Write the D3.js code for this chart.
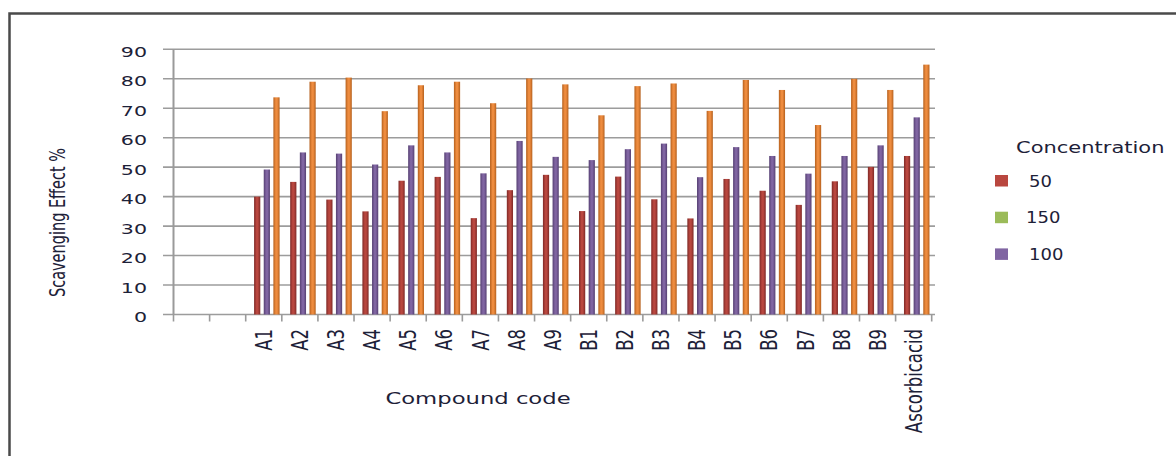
<!DOCTYPE html>
<html>
<head>
<meta charset="utf-8">
<script src="https://cdn.jsdelivr.net/npm/d3@7"></script>
<style>
  body { margin: 0; background: #fff; }
  text { font-family: "DejaVu Sans", sans-serif; fill: #1d2138; }
</style>
</head>
<body>
<div id="wrapper"></div>
<script>
// data
const categories = ["", "", "A1", "A2", "A3", "A4", "A5", "A6", "A7", "A8", "A9",
  "B1", "B2", "B3", "B4", "B5", "B6", "B7", "B8", "B9", "Ascorbicacid"];
const conc50 = [null, null, 40, 45, 39, 35, 45.4, 46.7, 32.7, 42.2, 47.4,
  35.1, 46.8, 39.1, 32.6, 46.0, 42.0, 37.2, 45.2, 50.1, 53.8];
const conc150 = [null, null, 0, 0, 0, 0, 0, 0, 0, 0, 0,
  0, 0, 0, 0, 0, 0, 0, 0, 0, 0];
const conc100 = [null, null, 49.2, 55.0, 54.6, 50.9, 57.4, 55.0, 47.9, 58.9, 53.5,
  52.4, 56.1, 58.0, 46.6, 56.8, 53.8, 47.8, 53.8, 57.4, 66.9];
const conc200 = [null, null, 73.7, 79.0, 80.4, 69.0, 77.8, 79.0, 71.7, 80.1, 78.1,
  67.6, 77.5, 78.4, 69.1, 79.6, 76.2, 64.3, 80.0, 76.2, 84.8];
const yTicks = [0, 10, 20, 30, 40, 50, 60, 70, 80, 90];
const legendKeys = ["50", "150", "100"];

const series = [
  { key: "150", values: conc150, color: "#9bbb59", edge: "#6f8a3a" },
  { key: "50", values: conc50, color: "#b9473f", edge: "#7e2926" },
  { key: "100", values: conc100, color: "#8065a2", edge: "#553f72" },
  { key: "200", values: conc200, color: "#ee8c3f", edge: "#b5601d" }
];

const width = 1176, height = 456;
const sx = 1.42; // the picture is stretched sideways

const svg = d3.select("#wrapper").append("svg")
  .attr("width", width)
  .attr("height", height);

// gradients for the shaded columns
const defs = svg.append("defs");
series.forEach(s => {
  const g = defs.append("linearGradient")
    .attr("id", "grad" + s.key)
    .attr("x1", 0).attr("x2", 1).attr("y1", 0).attr("y2", 0);
  g.append("stop").attr("offset", "0%").attr("stop-color", s.edge);
  g.append("stop").attr("offset", "40%").attr("stop-color", s.color);
  g.append("stop").attr("offset", "60%").attr("stop-color", s.color);
  g.append("stop").attr("offset", "100%").attr("stop-color", s.edge);
});

// outer frame
svg.append("path")
  .attr("d", `M9.5,${height + 5}V13.5H${width + 5}`)
  .attr("fill", "none")
  .attr("stroke", "#4a4a4a")
  .attr("stroke-width", 2.5);

// scales
const x = d3.scaleBand()
  .domain(d3.range(categories.length))
  .range([173.5, 931.7]);
const y = d3.scaleLinear()
  .domain([0, 90])
  .range([314.5, 49.3]);
const bw = x.bandwidth();
const xSub = d3.scaleBand()
  .domain(series.map(s => s.key))
  .range([-3, bw - 0.5]);
const barW = 6.2;

// gridlines
svg.append("g").selectAll("line")
  .data(yTicks)
  .enter().append("line")
  .attr("x1", 163)
  .attr("x2", 935)
  .attr("y1", d => y(d))
  .attr("y2", d => y(d))
  .attr("stroke", "#9c9c9c")
  .attr("stroke-width", 1.6);

// y axis line
svg.append("line")
  .attr("x1", 173.5).attr("x2", 173.5)
  .attr("y1", y(90)).attr("y2", y(0))
  .attr("stroke", "#9a9a9a")
  .attr("stroke-width", 2);

// x ticks
svg.append("g").selectAll("line")
  .data(d3.range(categories.length + 1))
  .enter().append("line")
  .attr("x1", d => d < categories.length ? x(d) : x(d - 1) + bw)
  .attr("x2", d => d < categories.length ? x(d) : x(d - 1) + bw)
  .attr("y1", y(0))
  .attr("y2", y(0) + 7)
  .attr("stroke", "#9a9a9a")
  .attr("stroke-width", 1.6);

// y tick labels
svg.append("g").selectAll("text")
  .data(yTicks)
  .enter().append("text")
  .attr("transform", d => `translate(147,${y(d) + 2.5}) scale(${sx},1)`)
  .attr("text-anchor", "end")
  .attr("dy", "0.35em")
  .style("font-size", "14.5px")
  .text(d => d);

// bars
series.forEach(s => {
  svg.append("g").selectAll("rect")
    .data(s.values.map((v, i) => ({ i, v })).filter(d => d.v !== null))
    .enter().append("rect")
    .attr("x", d => x(d.i) + xSub(s.key) + xSub.bandwidth() / 2 - barW / 2)
    .attr("width", barW)
    .attr("y", d => y(d.v))
    .attr("height", d => y(0) - y(d.v))
    .attr("fill", `url(#grad${s.key})`);
});

// category labels
svg.append("g").selectAll("text")
  .data(categories.map((c, i) => ({ c, i })).filter(d => d.c !== ""))
  .enter().append("text")
  .attr("transform", d => `translate(${x(d.i) + bw / 2},329) scale(${sx},1) rotate(-90)`)
  .attr("text-anchor", "end")
  .attr("dy", "0.35em")
  .style("font-size", "16.5px")
  .text(d => d.c);

// axis titles
svg.append("text")
  .attr("transform", `translate(478,404) scale(${sx},1)`)
  .attr("text-anchor", "middle")
  .style("font-size", "16px")
  .text("Compound code");

svg.append("text")
  .attr("transform", `translate(65,222.5) scale(${sx},1) rotate(-90)`)
  .attr("text-anchor", "middle")
  .style("font-size", "14.5px")
  .text("Scavenging Effect %");

// legend
const legend = svg.append("g");
legend.append("text")
  .attr("transform", `translate(1016,152.5) scale(1.4,1)`)
  .style("font-size", "15px")
  .text("Concentration");

const items = legend.selectAll(".item")
  .data(legendKeys)
  .enter().append("g")
  .attr("class", "item")
  .attr("transform", (d, i) => `translate(995,${175 + i * 36.7})`);

items.append("rect")
  .attr("width", 13)
  .attr("height", 11.5)
  .attr("fill", d => series.find(s => s.key === d).color);

items.append("text")
  .attr("transform", d => `translate(${d === "150" ? 31 : 34},11.5) scale(1.2,1)`)
  .style("font-size", "15px")
  .text(d => d);
</script>
</body>
</html>
